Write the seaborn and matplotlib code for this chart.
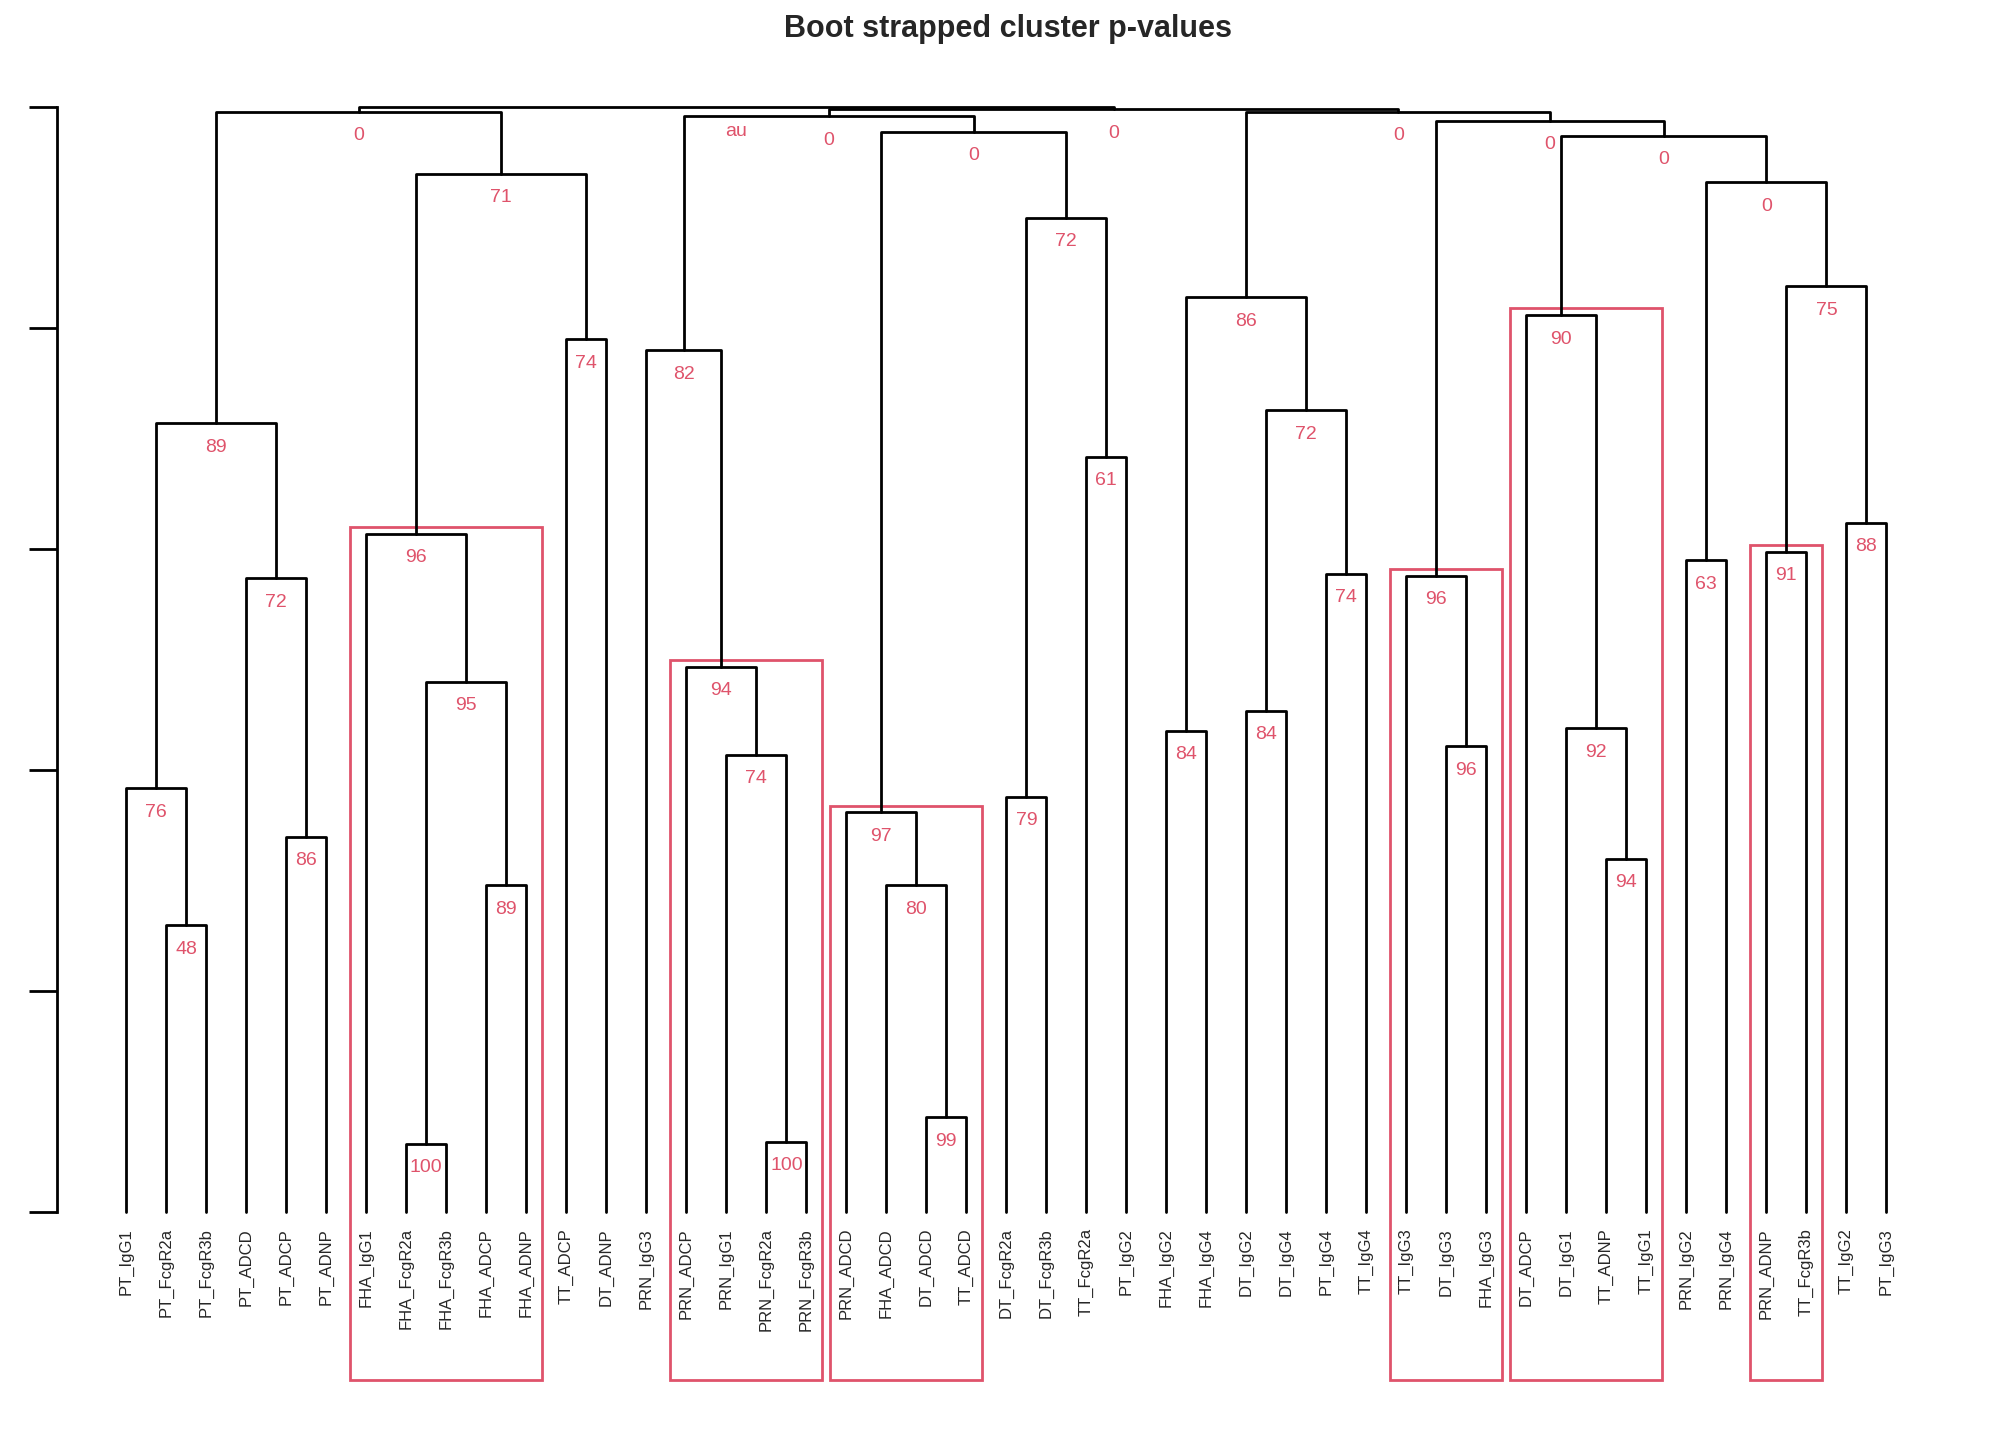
import matplotlib
matplotlib.use("Agg")
import matplotlib.pyplot as plt
import matplotlib.patches as mpatches
import seaborn as sns

leaves = ["PT_IgG1", "PT_FcgR2a", "PT_FcgR3b", "PT_ADCD", "PT_ADCP", "PT_ADNP",
          "FHA_IgG1", "FHA_FcgR2a", "FHA_FcgR3b", "FHA_ADCP", "FHA_ADNP",
          "TT_ADCP", "DT_ADNP", "PRN_IgG3", "PRN_ADCP", "PRN_IgG1", "PRN_FcgR2a",
          "PRN_FcgR3b", "PRN_ADCD", "FHA_ADCD", "DT_ADCD", "TT_ADCD", "DT_FcgR2a",
          "DT_FcgR3b", "TT_FcgR2a", "PT_IgG2", "FHA_IgG2", "FHA_IgG4", "DT_IgG2",
          "DT_IgG4", "PT_IgG4", "TT_IgG4", "TT_IgG3", "DT_IgG3", "FHA_IgG3",
          "DT_ADCP", "DT_IgG1", "TT_ADNP", "TT_IgG1", "PRN_IgG2", "PRN_IgG4",
          "PRN_ADNP", "TT_FcgR3b", "TT_IgG2", "PT_IgG3"]

# children: leaf name or index of an earlier merge
merge_left = ["PT_FcgR2a", "PT_IgG1", "PT_ADCP", "PT_ADCD", 1,
              "FHA_FcgR2a", "FHA_ADCP", 5, "FHA_IgG1", "TT_ADCP", 8, 4,
              "PRN_FcgR2a", "PRN_IgG1", "PRN_ADCP", "PRN_IgG3",
              "DT_ADCD", "FHA_ADCD", "PRN_ADCD", "DT_FcgR2a", "TT_FcgR2a", 19, 18, 15,
              "FHA_IgG2", "DT_IgG2", "PT_IgG4", 25, 24,
              "DT_IgG3", "TT_IgG3", "TT_ADNP", "DT_IgG1", "DT_ADCP",
              "PRN_ADNP", "TT_IgG2", 34, "PRN_IgG2", 37, 33, 30, 28, 23, 11]
merge_right = ["PT_FcgR3b", 0, "PT_ADNP", 2, 3,
               "FHA_FcgR3b", "FHA_ADNP", 6, 7, "DT_ADNP", 9, 10,
               "PRN_FcgR3b", 12, 13, 14,
               "TT_ADCD", 16, 17, "DT_FcgR3b", "PT_IgG2", 20, 21, 22,
               "FHA_IgG4", "DT_IgG4", "TT_IgG4", 26, 27,
               "FHA_IgG3", 29, "TT_IgG1", 31, 32,
               "TT_FcgR3b", "PT_IgG3", 35, "PRN_IgG4", 36, 38, 39, 40, 41, 42]
merge_height = [1.30, 1.92, 1.70, 2.87, 3.57,
                0.31, 1.48, 2.40, 3.07, 3.95, 4.70, 4.98,
                0.32, 2.07, 2.47, 3.90,
                0.43, 1.48, 1.81, 1.88, 3.42, 4.50, 4.89, 4.96,
                2.18, 2.27, 2.89, 3.63, 4.14,
                2.11, 2.88, 1.60, 2.19, 4.06,
                2.99, 3.12, 4.19, 2.95, 4.66, 4.87, 4.94, 4.98, 4.99, 5.00]
merge_au = ["48", "76", "86", "72", "89",
            "100", "89", "95", "96", "74", "71", "0",
            "100", "74", "94", "82",
            "99", "80", "97", "79", "61", "72", "0", "0",
            "84", "84", "74", "72", "86",
            "96", "96", "94", "92", "90",
            "91", "88", "75", "63", "0", "0", "0", "0", "0", "au"]
highlighted = [8, 14, 18, 30, 33, 34]

sns.set_theme(style="white")
plt.rcParams["font.family"] = ["Liberation Sans", "DejaVu Sans"]

fig = plt.figure(figsize=(20.16, 14.4), dpi=100)
ax = fig.add_axes([0.0282, 0.158, 0.9333, 0.7675])
red = "#DF536B"

pos = {name: i for i, name in enumerate(leaves)}
node_x, node_h, node_span = [], [], []

def child(c):
    if isinstance(c, str):
        return pos[c], 0.0, (pos[c], pos[c])
    return node_x[c], node_h[c], node_span[c]

for k in range(len(merge_height)):
    xl, hl, sl = child(merge_left[k])
    xr, hr, sr = child(merge_right[k])
    h = merge_height[k]
    ax.plot([xl, xl, xr, xr], [hl, h, h, hr], color="black", lw=2, clip_on=False)
    node_x.append((xl + xr) / 2)
    node_h.append(h)
    node_span.append((min(sl[0], sr[0]), max(sl[1], sr[1])))
    ax.text((xl + xr) / 2, h - 0.07, merge_au[k], color=red, fontsize=14,
            ha="center", va="top")

for k in highlighted:
    lo, hi = node_span[k]
    ax.add_patch(mpatches.Rectangle((lo - 0.4, -0.76), hi - lo + 0.8,
                                    node_h[k] + 0.79, fill=False, ec=red, lw=2,
                                    clip_on=False))

for i, name in enumerate(leaves):
    ax.text(i, -0.07, name, rotation=90, ha="center", va="top", fontsize=12)

ax.set_xlim(-1.736, 45.3)
ax.set_ylim(0, 5)
for s in ["top", "right", "bottom"]:
    ax.spines[s].set_visible(False)
ax.spines["left"].set_linewidth(2)
ax.spines["left"].set_color("black")
ax.set_yticks([0, 1, 2, 3, 4, 5])
ax.set_yticklabels([])
ax.set_xticks([])
ax.tick_params(axis="y", direction="out", length=20, width=2, left=True, color="black")
fig.suptitle("Boot strapped cluster p-values", fontsize=22, fontweight="bold", y=0.99)

fig.savefig("out.png", dpi=100)
